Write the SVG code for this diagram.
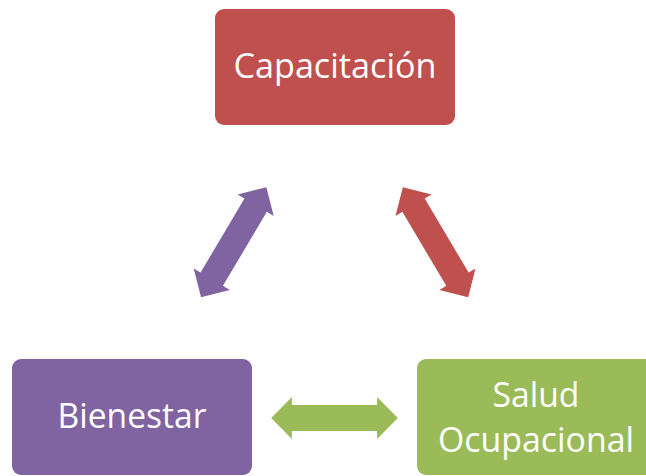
<svg xmlns="http://www.w3.org/2000/svg" width="646" height="476" viewBox="0 0 646 476">
  <style>
    .lbl { font-family: "Open Sans", "Noto Sans", "Liberation Sans", sans-serif; font-size: 34px; fill: #FFFFFF; text-anchor: middle; }
  </style>
  <defs>
    <path id="dblArrow" d="M -64 0 L -43 -21 L -43 -13 L 43 -13 L 43 -21 L 64 0 L 43 21 L 43 13 L -43 13 L -43 21 Z"/>
  </defs>
  <rect width="646" height="476" fill="#FFFFFF"/>
  <g id="connectors">
    <use href="#dblArrow" fill="#8064A2" transform="translate(233.7,242.2) rotate(-59.3)"/>
    <use href="#dblArrow" fill="#C0504D" transform="translate(435.5,242.2) rotate(59.3)"/>
    <use href="#dblArrow" fill="#9BBB59" transform="translate(334.5,418) scale(0.99,1)"/>
  </g>
  <g id="capacitacion">
    <rect x="215" y="9" width="240" height="116" rx="9" fill="#C0504D"/>
    <text class="lbl" x="335" y="78" textLength="203" lengthAdjust="spacingAndGlyphs">Capacitación</text>
  </g>
  <g id="bienestar">
    <rect x="12" y="359" width="240" height="116" rx="9" fill="#8064A2"/>
    <text class="lbl" x="132" y="428" textLength="149" lengthAdjust="spacingAndGlyphs">Bienestar</text>
  </g>
  <g id="salud">
    <rect x="417" y="359" width="240" height="116" rx="9" fill="#9BBB59"/>
    <text class="lbl" x="536" y="407" textLength="87" lengthAdjust="spacingAndGlyphs">Salud</text>
    <text class="lbl" x="536" y="452" textLength="196" lengthAdjust="spacingAndGlyphs">Ocupacional</text>
  </g>
</svg>
